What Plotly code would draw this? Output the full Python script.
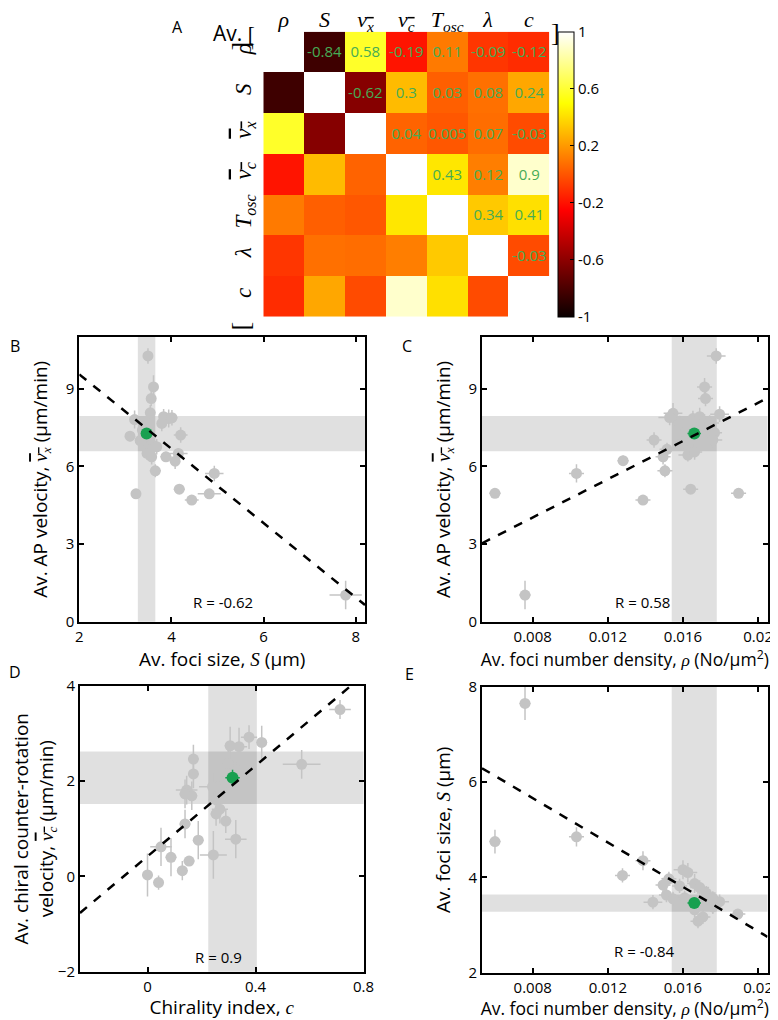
import plotly.graph_objects as go

# ---------------- DATA ----------------
# Correlation matrix (symmetric), order: rho, S, vx, vc, Tosc, lambda, c
corr_labels = ["rho", "S", "vx", "vc", "Tosc", "lambda", "c"]
corr_rho = [1, -0.84, 0.58, -0.19, 0.11, -0.09, -0.12]
corr_S = [-0.84, 1, -0.62, 0.3, 0.03, 0.08, 0.24]
corr_vx = [0.58, -0.62, 1, 0.04, 0.005, 0.07, -0.03]
corr_vc = [-0.19, 0.3, 0.04, 1, 0.43, 0.12, 0.9]
corr_Tosc = [0.11, 0.03, 0.005, 0.43, 1, 0.34, 0.41]
corr_lam = [-0.09, 0.08, 0.07, 0.12, 0.34, 1, -0.03]
corr_c = [-0.12, 0.24, -0.03, 0.9, 0.41, -0.03, 1]

# Panel B: S vs vx
B_S = [3.49, 3.61, 3.56, 3.54, 3.20, 3.83, 3.94, 4.01, 3.79, 3.37, 3.10, 4.20, 3.32, 3.57,
       3.54, 3.68, 3.47, 3.57, 3.88, 4.15, 4.08, 3.65, 4.93, 4.17, 3.23, 4.44, 4.82, 7.78]
B_vx = [10.27, 9.07, 8.62, 8.07, 7.81, 7.92, 7.85, 7.88, 7.66, 7.40, 7.17, 7.21, 7.00, 6.85,
        6.63, 6.76, 6.50, 6.37, 6.37, 6.50, 6.20, 5.83, 5.73, 5.12, 4.94, 4.70, 4.94, 1.03]
B_S_err = [0.05, 0.05, 0.05, 0.08, 0.10, 0.10, 0.10, 0.12, 0.10, 0.08, 0.08, 0.15, 0.08, 0.08,
           0.08, 0.10, 0.08, 0.08, 0.12, 0.20, 0.10, 0.12, 0.20, 0.12, 0.10, 0.15, 0.25, 0.35]
B_vx_err = [0.30, 0.45, 0.30, 0.30, 0.35, 0.30, 0.35, 0.30, 0.30, 0.30, 0.20, 0.30, 0.20, 0.25,
            0.25, 0.30, 0.25, 0.30, 0.20, 0.20, 0.30, 0.25, 0.30, 0.15, 0.10, 0.15, 0.15, 0.55]

# Panel C: rho vs vx
C_rho = [0.01777, 0.01715, 0.01720, 0.01795, 0.01547, 0.01529, 0.01582, 0.01653, 0.01689,
         0.01715, 0.01742, 0.01446, 0.01768, 0.01759, 0.01600, 0.01515, 0.01626, 0.01662,
         0.01494, 0.01281, 0.01504, 0.01033, 0.01641, 0.00599, 0.01896, 0.01387, 0.00759]
C_vx = [10.27, 9.07, 8.62, 8.02, 8.05, 7.89, 7.66, 7.85, 7.92, 7.72, 7.68, 7.02, 7.30, 7.02,
        6.95, 6.66, 6.44, 6.56, 6.37, 6.22, 5.83, 5.73, 5.12, 4.96, 4.96, 4.70, 1.03]
C_rho_err = [0.0005, 0.0004, 0.0004, 0.0005, 0.0005, 0.0006, 0.0004, 0.0004, 0.0005, 0.0004,
             0.0005, 0.0004, 0.0004, 0.0005, 0.0004, 0.0004, 0.0005, 0.0004, 0.0004, 0.0003,
             0.0004, 0.0004, 0.0004, 0.0003, 0.0004, 0.0004, 0.0003]
C_vx_err = [0.30, 0.35, 0.30, 0.30, 0.40, 0.30, 0.30, 0.30, 0.35, 0.30, 0.30, 0.30, 0.30, 0.30,
            0.25, 0.25, 0.25, 0.30, 0.30, 0.20, 0.25, 0.35, 0.15, 0.15, 0.15, 0.15, 0.55]

# Panel D: c vs vc
D_c = [0.376, 0.306, 0.339, 0.423, 0.571, 0.170, 0.299, 0.170, 0.287, 0.241, 0.145, 0.139,
       0.164, 0.256, 0.268, 0.254, 0.290, 0.139, 0.188, 0.327, 0.050, 0.244, 0.087, 0.154,
       0.129, 0.000, 0.041, 0.713]
D_vc = [2.92, 2.74, 2.72, 2.81, 2.35, 2.46, 2.37, 2.15, 1.99, 1.88, 1.81, 1.73, 1.69, 1.60,
        1.41, 1.31, 1.16, 1.10, 0.76, 0.78, 0.62, 0.45, 0.40, 0.32, 0.12, 0.03, -0.13, 3.50]
D_c_err = [0.03, 0.02, 0.03, 0.02, 0.07, 0.02, 0.03, 0.02, 0.03, 0.05, 0.04, 0.02, 0.02, 0.03,
           0.03, 0.02, 0.02, 0.02, 0.02, 0.04, 0.04, 0.05, 0.02, 0.02, 0.02, 0.02, 0.02, 0.04]
D_vc_err = [0.25, 0.40, 0.40, 0.35, 0.30, 0.30, 0.30, 0.30, 0.30, 0.30, 0.30, 0.30, 0.30, 0.30,
            0.30, 0.25, 0.25, 0.30, 0.40, 0.40, 0.40, 0.50, 0.40, 0.10, 0.20, 0.45, 0.15, 0.20]

# Panel E: rho vs S
E_rho = [0.00759, 0.00599, 0.01033, 0.01387, 0.01278, 0.01440, 0.01600, 0.01626, 0.01525,
         0.01494, 0.01582, 0.01662, 0.01689, 0.01512, 0.01547, 0.01609, 0.01724, 0.01759,
         0.01795, 0.01759, 0.01662, 0.01706, 0.01680, 0.01892]
E_S = [7.65, 4.75, 4.85, 4.35, 4.04, 3.48, 4.16, 4.10, 3.97, 3.84, 3.82, 3.87, 3.79, 3.63,
       3.55, 3.57, 3.67, 3.56, 3.49, 3.38, 3.32, 3.17, 3.08, 3.23]
E_rho_err = [0.0003, 0.0003, 0.0004, 0.0004, 0.0004, 0.0005, 0.0005, 0.0005, 0.0004, 0.0004,
             0.0004, 0.0004, 0.0005, 0.0004, 0.0004, 0.0004, 0.0005, 0.0004, 0.0005, 0.0004,
             0.0004, 0.0004, 0.0004, 0.0004]
E_S_err = [0.35, 0.25, 0.20, 0.20, 0.15, 0.15, 0.20, 0.20, 0.15, 0.15, 0.15, 0.20, 0.15, 0.15,
           0.15, 0.15, 0.15, 0.15, 0.15, 0.15, 0.15, 0.15, 0.15, 0.10]

# Wild-type reference (mean, sd)
WT_S = [3.46, 0.19]
WT_vx = [7.27, 0.68]
WT_rho = [0.0166, 0.0012]
WT_S_E = [3.46, 0.18]
WT_c = [0.315, 0.09]
WT_vc = [2.07, 0.55]

# Linear fits (slope, intercept)
fit_B = [-1.437, 12.43]
fit_C = [369.2, 1.073]
fit_D = [4.75, 0.42]
fit_E = [-232.7, 7.523]

R_values = ["-0.62", "0.58", "0.9", "-0.84"]

# ---------------- STYLE / LAYOUT ----------------
SANS = "Open Sans"
SERIF = "Liberation Serif"
GRAY = "rgb(196,196,196)"
GREEN = "rgb(24,160,80)"
BAND = "rgba(0,0,0,0.12)"
TITLE_SIZE = 19

OFF = 8  # page body margin
W, H = 770, 1012


def px_x(p):
    return (p - OFF) / W


def px_y(p):
    return 1 - (p - OFF) / H


def dom_x(a, b):
    return [px_x(a), px_x(b)]


def dom_y(top, bottom):
    return [px_y(bottom), px_y(top)]


def ov(sym, sub):
    return ("<span style='font-family:%s'><span style='text-decoration:overline'><i>%s</i>"
            "<sub><i>%s</i></sub></span></span>" % (SERIF, sym, sub))


def it(s):
    return "<span style='font-family:%s'><i>%s</i></span>" % (SERIF, s)


hm_ticks = [it("ρ"), it("S"), ov("v", "x"), ov("v", "c"),
            "<span style='font-family:%s'><i>T</i><sub><i>osc</i></sub></span>" % SERIF,
            it("λ"), it("c")]

Z = [corr_rho, corr_S, corr_vx, corr_vc, corr_Tosc, corr_lam, corr_c]
text = [["" if j <= i else ("%g" % Z[i][j]) for j in range(7)] for i in range(7)]

hot = [[0, "rgb(10,0,0)"], [0.375, "rgb(255,0,0)"], [0.75, "rgb(255,255,0)"],
       [1, "rgb(255,255,255)"]]

fig = go.Figure()
fig.add_trace(go.Heatmap(
    z=Z, x=list(range(7)), y=list(range(7)), zmin=-1, zmax=1, colorscale=hot,
    text=text, texttemplate="%{text}",
    textfont=dict(family=SANS, size=15, color="rgb(70,172,85)"),
    xaxis="x", yaxis="y", hoverinfo="skip",
    colorbar=dict(x=px_x(557.5), xanchor="left", y=px_y(174.2), yanchor="middle",
                  len=285 / H, lenmode="fraction", thickness=16, xpad=0, ypad=0,
                  outlinewidth=1, outlinecolor="black",
                  tickvals=[-1, -0.6, -0.2, 0.2, 0.6, 1],
                  ticktext=["-1", "-0.6", "-0.2", "0.2", "0.6", "1"],
                  ticks="inside", ticklen=4, tickcolor="black",
                  tickfont=dict(family=SANS, size=15, color="black")),
))


def panel(ax, xs, ys, xe, ye, wx, wy, fit, xr):
    xa, ya = "x%d" % ax, "y%d" % ax
    fig.add_trace(go.Scatter(
        x=xs, y=ys, mode="markers", xaxis=xa, yaxis=ya,
        marker=dict(color=GRAY, size=11),
        error_x=dict(type="data", array=xe, color=GRAY, thickness=1.5, width=0),
        error_y=dict(type="data", array=ye, color=GRAY, thickness=1.5, width=0),
        showlegend=False, hoverinfo="skip"))
    fig.add_trace(go.Scatter(
        x=[wx[0]], y=[wy[0]], mode="markers", xaxis=xa, yaxis=ya,
        marker=dict(color=GREEN, size=12),
        error_x=dict(type="constant", value=wx[1] * 0.3, color=GREEN, thickness=1.5, width=0),
        error_y=dict(type="constant", value=wy[1] * 0.3, color=GREEN, thickness=1.5, width=0),
        showlegend=False, hoverinfo="skip"))
    fx = [xr[0], xr[1]]
    fig.add_trace(go.Scatter(
        x=fx, y=[fit[0] * v + fit[1] for v in fx], mode="lines", xaxis=xa, yaxis=ya,
        line=dict(color="black", width=2.5, dash="dash"), showlegend=False,
        hoverinfo="skip"))
    fig.add_shape(type="rect", xref=xa, yref=ya + " domain", x0=wx[0] - wx[1],
                  x1=wx[0] + wx[1], y0=0, y1=1, fillcolor=BAND, line_width=0, layer="below")
    fig.add_shape(type="rect", xref=xa + " domain", yref=ya, x0=0, x1=1,
                  y0=wy[0] - wy[1], y1=wy[0] + wy[1], fillcolor=BAND, line_width=0,
                  layer="below")


rB = [2, 8.2]
rC = [0.0053, 0.0205]
rD = [-0.25, 0.8]
panel(2, B_S, B_vx, B_S_err, B_vx_err, WT_S, WT_vx, fit_B, rB)
panel(3, C_rho, C_vx, C_rho_err, C_vx_err, WT_rho, WT_vx, fit_C, rC)
panel(4, D_c, D_vc, D_c_err, D_vc_err, WT_c, WT_vc, fit_D, rD)
panel(5, E_rho, E_S, E_rho_err, E_S_err, WT_rho, WT_S_E, fit_E, rC)


def axis(**kw):
    d = dict(showline=True, linewidth=2, linecolor="black", mirror="allticks",
             ticks="inside", ticklen=5, tickwidth=1.5, tickcolor="black",
             showgrid=False, zeroline=False, automargin=False,
             tickfont=dict(family=SANS, size=15, color="black"),
             title_font=dict(family=SANS, size=TITLE_SIZE, color="black"))
    d.update(kw)
    return d


rho_tv = [0.008, 0.012, 0.016, 0.02]
rho_tt = ["0.008", "0.012", "0.016", "0.02"]
rho_title = "Av. foci number density, " + it("ρ") + " (No/μm<sup>2</sup>)"
vx_title = "Av. AP velocity, " + ov("v", "x") + " (μm/min)"
S_title = "Av. foci size, " + it("S") + " (μm)"
rho_title_font = dict(family=SANS, size=17.5, color="black")

fig.update_layout(
    width=W, height=H, margin=dict(l=0, r=0, t=0, b=0, autoexpand=False),
    paper_bgcolor="white", plot_bgcolor="white", showlegend=False,
    font=dict(family=SANS, color="black"),
    xaxis=dict(domain=dom_x(263.3, 549.3), side="top", tickvals=list(range(7)),
               ticktext=hm_ticks, showgrid=False, zeroline=False, ticks="",
               automargin=False, tickfont=dict(size=22, color="black"),
               range=[-0.5, 6.5], anchor="y", ticklabelstandoff=-1),
    yaxis=dict(domain=dom_y(31.7, 316.7), tickvals=list(range(7)), ticktext=hm_ticks,
               autorange="reversed", showgrid=False, zeroline=False, ticks="",
               automargin=False, tickangle=-90, tickfont=dict(size=23, color="black"),
               anchor="x", ticklabelstandoff=7),
    xaxis2=axis(domain=dom_x(79.3, 365), anchor="y2", range=rB,
                tickvals=[2, 4, 6, 8], title=dict(text=S_title, standoff=4)),
    yaxis2=axis(domain=dom_y(337, 621.7), anchor="x2", range=[0, 11],
                tickvals=[0, 3, 6, 9], title=dict(text=vx_title, standoff=13)),
    xaxis3=axis(domain=dom_x(482, 767.5), anchor="y3", range=rC, tickvals=rho_tv,
                ticktext=rho_tt,
                title=dict(text=rho_title, standoff=7, font=rho_title_font)),
    yaxis3=axis(domain=dom_y(337, 621.7), anchor="x3", range=[0, 11],
                tickvals=[0, 3, 6, 9], title=dict(text=vx_title, standoff=13)),
    xaxis4=axis(domain=dom_x(80, 363.5), anchor="y4", range=rD,
                tickvals=[0, 0.4, 0.8], ticktext=["0", "0.4", "0.8"],
                title=dict(text="Chirality index, " + it("c"), standoff=4)),
    yaxis4=axis(domain=dom_y(685.7, 971.7), anchor="x4", range=[-2, 4],
                tickvals=[-2, 0, 2, 4], ticktext=["\u22122", "0", "2", "4"],
                title=dict(text="Av. chiral counter-rotation<br>velocity, " + ov("v", "c")
                           + " (μm/min)", standoff=8)),
    xaxis5=axis(domain=dom_x(482, 767.5), anchor="y5", range=rC, tickvals=rho_tv,
                ticktext=rho_tt,
                title=dict(text=rho_title, standoff=7, font=rho_title_font)),
    yaxis5=axis(domain=dom_y(686.7, 972.7), anchor="x5", range=[2, 8],
                tickvals=[2, 4, 6, 8], title=dict(text=S_title, standoff=13)),
)

ann = []
for ax, xv, yv, r in [(2, 5.12, 0.77, R_values[0]), (3, 0.01385, 0.77, R_values[1]),
                      (4, 0.262, -1.69, R_values[2]), (5, 0.01397, 2.45, R_values[3])]:
    ann.append(dict(xref="x%d" % ax, yref="y%d" % ax, x=xv, y=yv, text="R = " + r,
                    showarrow=False, font=dict(family=SANS, size=15, color="black")))
for lbl, px, py in [("A", 170, 14), ("B", 8, 346), ("C", 407, 346), ("D", 7, 685),
                    ("E", 410, 687)]:
    ann.append(dict(xref="paper", yref="paper", x=px_x(px), y=px_y(py), text=lbl,
                    showarrow=False, font=dict(family=SANS, size=16, color="black")))
ann.append(dict(xref="paper", yref="paper", x=px_x(234), y=px_y(17), showarrow=False,
                xanchor="center",
                text="Av. <span style='font-family:%s'>[</span>" % SERIF,
                font=dict(family=SANS, size=21, color="black")))
ann.append(dict(xref="paper", yref="paper", x=px_x(555), y=px_y(16), showarrow=False,
                xanchor="center", text="]", font=dict(family=SERIF, size=26, color="black")))
ann.append(dict(xref="paper", yref="paper", x=px_x(240), y=px_y(40), showarrow=False,
                xanchor="center", text="]", textangle=-90,
                font=dict(family=SERIF, size=26, color="black")))
ann.append(dict(xref="paper", yref="paper", x=px_x(240), y=px_y(320), showarrow=False,
                xanchor="center", text="[", textangle=-90,
                font=dict(family=SERIF, size=26, color="black")))
fig.update_layout(annotations=ann)

fig.write_html("out.html")
